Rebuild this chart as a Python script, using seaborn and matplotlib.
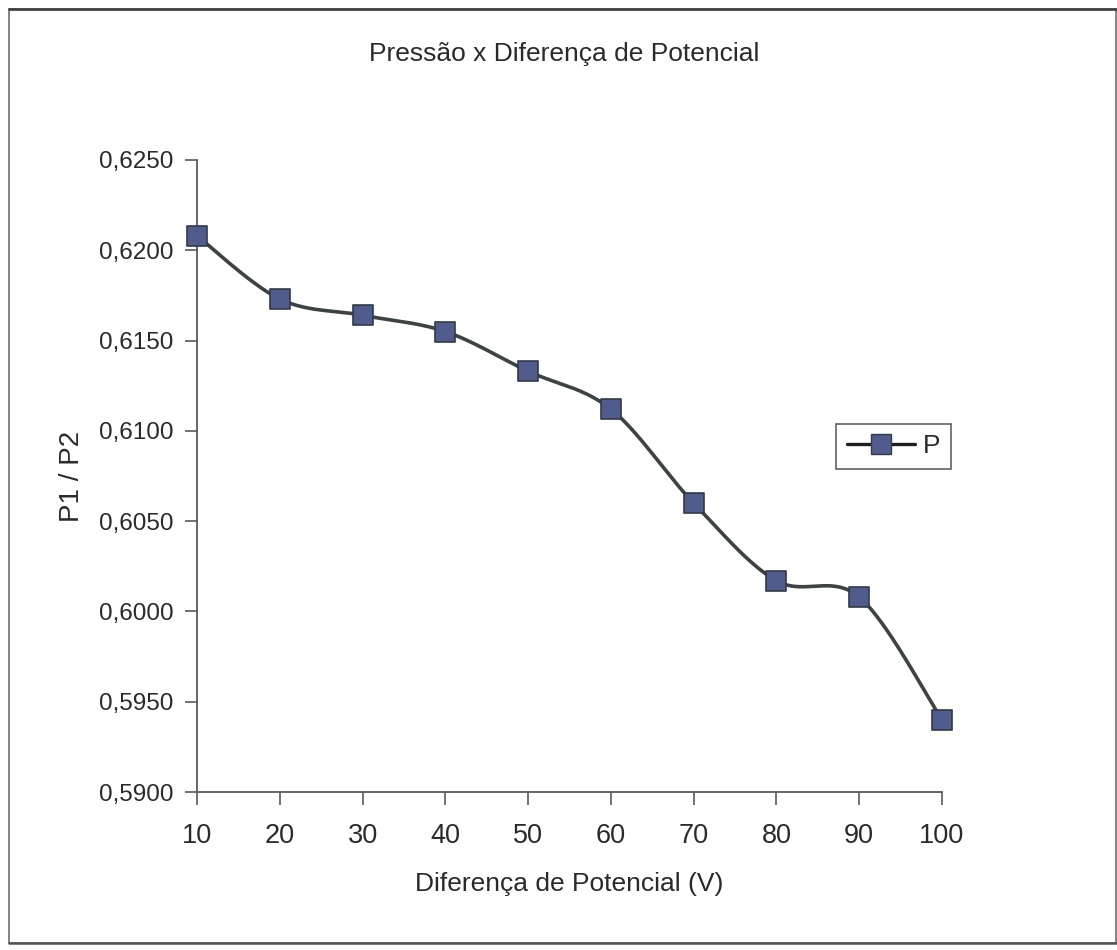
import numpy as np
import pandas as pd
import matplotlib
matplotlib.use("Agg")
import matplotlib.pyplot as plt
from matplotlib.lines import Line2D
from matplotlib.patches import Rectangle
from matplotlib.ticker import FuncFormatter, FixedLocator
import seaborn as sns

# Measured pressure ratio versus applied potential difference
voltage = [10, 20, 30, 40, 50, 60, 70, 80, 90, 100]
ratio = [0.6208, 0.6173, 0.6164, 0.6155, 0.6133, 0.6112, 0.6060, 0.6017, 0.6008, 0.5940]

title_text = "Pressão x Diferença de Potencial"
x_label = "Diferença de Potencial (V)"
y_label = "P1 / P2"
series_name = "P"

df = pd.DataFrame({"V": voltage, "P": ratio})

sns.set_theme(style="white")
plt.rcParams["font.family"] = ["Liberation Sans", "DejaVu Sans"]

LINE_COLOR = "#3d4242"
FILL_COLOR = "#505c8c"
EDGE_COLOR = "#343a48"
AXIS_COLOR = "#5a5a5a"
TEXT_COLOR = "#2a2a2a"


def smooth_curve(xs, ys, steps=40):
    """Piecewise cubic Bezier through the points (Catmull-Rom style smoothing)."""
    pts = np.column_stack([xs, ys]).astype(float)
    padded = np.vstack([pts[0], pts, pts[-1]])
    out = []
    t = np.linspace(0, 1, steps)[:, None]
    for i in range(len(pts) - 1):
        p0, p1, p2, p3 = padded[i], padded[i + 1], padded[i + 2], padded[i + 3]
        c1 = p1 + (p2 - p0) / 6.0
        c2 = p2 - (p3 - p1) / 6.0
        seg = ((1 - t) ** 3) * p1 + 3 * ((1 - t) ** 2) * t * c1 + 3 * (1 - t) * t ** 2 * c2 + t ** 3 * p2
        out.append(seg if i == 0 else seg[1:])
    seg_all = np.vstack(out)
    return seg_all[:, 0], seg_all[:, 1]


fig = plt.figure(figsize=(11.17, 9.5), dpi=100)
fig.patch.set_facecolor("white")
ax = fig.add_axes([0.1764, 0.1663, 0.8433 - 0.1764, 0.8316 - 0.1663])

sx, sy = smooth_curve(df["V"].to_numpy(), df["P"].to_numpy())
ax.plot(sx, sy, color=LINE_COLOR, lw=2.6, solid_capstyle="round", zorder=2)
sns.scatterplot(data=df, x="V", y="P", marker="s", s=200, color=FILL_COLOR,
                edgecolor=EDGE_COLOR, linewidth=1.2, ax=ax, zorder=3, legend=False)

ax.set_xlim(10, 100)
ax.set_ylim(0.5900, 0.6250)
ax.xaxis.set_major_locator(FixedLocator(voltage))
ax.yaxis.set_major_locator(FixedLocator(np.arange(0.5900, 0.62501, 0.0050)))
ax.yaxis.set_major_formatter(FuncFormatter(lambda v, _: f"{v:.4f}".replace(".", ",")))
ax.xaxis.set_major_formatter(FuncFormatter(lambda v, _: f"{v:.0f}"))

for side in ("top", "right"):
    ax.spines[side].set_visible(False)
for side in ("left", "bottom"):
    ax.spines[side].set_color(AXIS_COLOR)
    ax.spines[side].set_linewidth(1.3)
for coll in ax.collections:
    coll.set_clip_on(False)
for ln in ax.lines:
    ln.set_clip_on(False)

ax.tick_params(axis="both", direction="out", length=9, width=1.2, color=AXIS_COLOR,
               labelcolor=TEXT_COLOR, left=True, bottom=True)
ax.tick_params(axis="y", pad=8, labelsize=17.5)
ax.tick_params(axis="x", pad=13, labelsize=19.5)

ax.set_xlabel(x_label, fontsize=19, color=TEXT_COLOR, labelpad=17)
ax.set_ylabel(y_label, fontsize=20, color=TEXT_COLOR, labelpad=10)
fig.text(0.505, 0.943, title_text, ha="center", va="center", fontsize=19, color=TEXT_COLOR)

handle = Line2D([0], [0], color="#1e1e1e", lw=2.4, marker="s", markersize=15,
                markerfacecolor=FILL_COLOR, markeredgecolor=EDGE_COLOR)
leg = ax.legend([handle], [series_name], loc="center left",
                bbox_to_anchor=(0.840, 0.547), frameon=True, fontsize=19,
                handlelength=2.6, handletextpad=0.3, borderpad=0.4,
                fancybox=False, edgecolor="#3a3a3a")
leg.get_frame().set_linewidth(1.2)
for t in leg.get_texts():
    t.set_color(TEXT_COLOR)

# Outer chart frame
fig.patches.append(Rectangle((0.008, 0.0074), 0.991, 0.9831, transform=fig.transFigure,
                             fill=False, edgecolor="#7a7a7a", linewidth=1.3, zorder=0))
fig.lines.append(Line2D([0.008, 0.999], [0.9905, 0.9905], transform=fig.transFigure,
                        color="#444444", linewidth=2.0))
fig.lines.append(Line2D([0.008, 0.999], [0.0074, 0.0074], transform=fig.transFigure,
                        color="#555555", linewidth=1.8))

fig.savefig("out.png", dpi=100, facecolor="white")
